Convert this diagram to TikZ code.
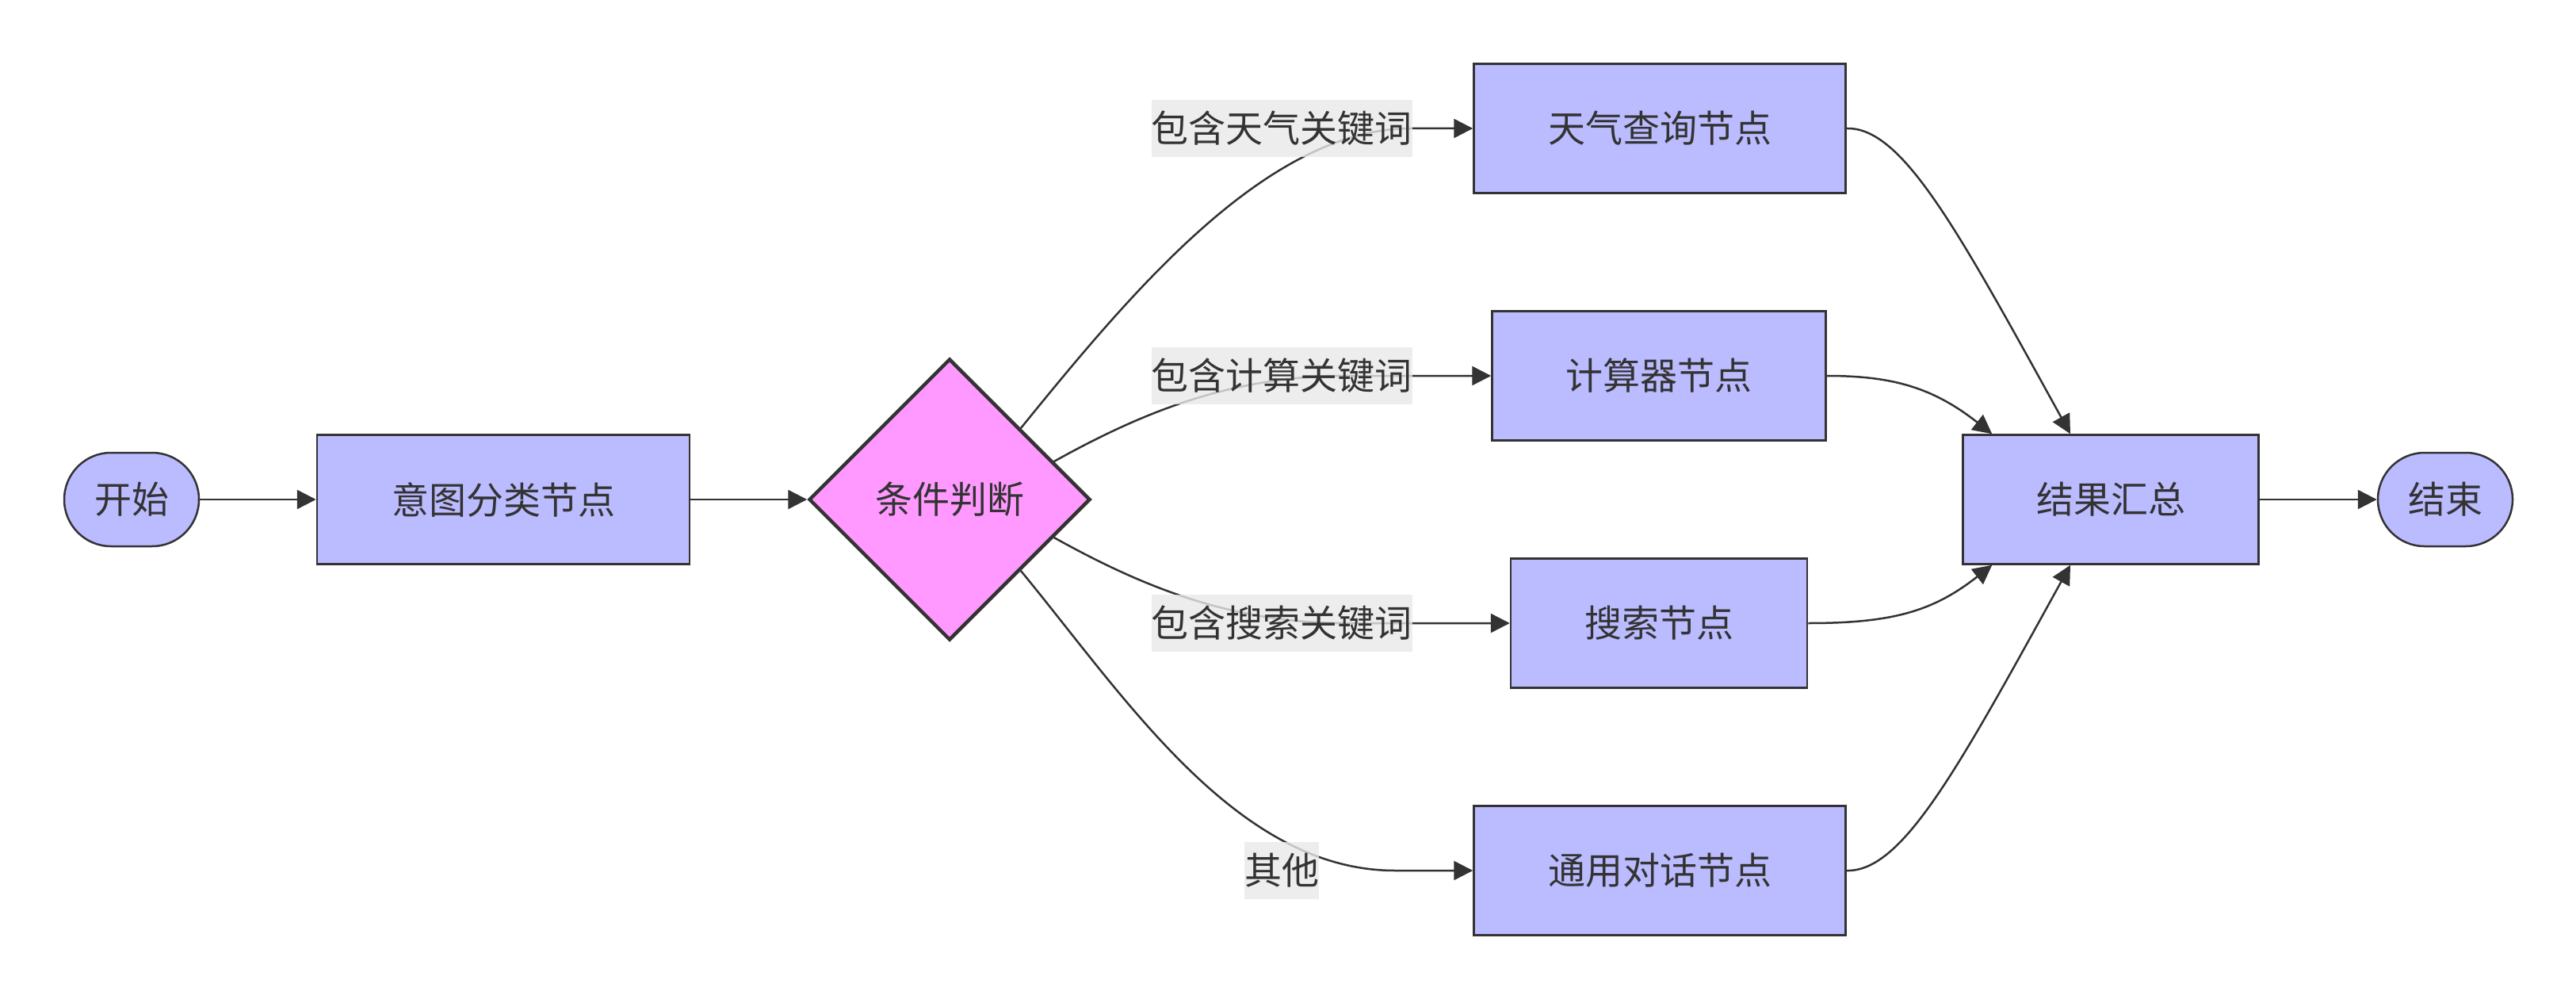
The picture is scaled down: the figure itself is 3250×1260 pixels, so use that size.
\documentclass[tikz,border=0pt]{standalone}
\usepackage{fontspec}
\setmainfont{Noto Sans CJK SC}
\usetikzlibrary{shapes.geometric,arrows.meta}
\definecolor{boxfill}{RGB}{187,187,255}
\definecolor{condfill}{RGB}{255,153,255}
\definecolor{inkgray}{RGB}{51,51,51}
\definecolor{labelbg}{RGB}{232,232,232}
\tikzset{every picture/.style={line width=2.5pt}}
\tikzset{
  procbox/.style={draw=inkgray, fill=boxfill, line width=2.5pt, minimum height=163pt, inner sep=0pt, text=inkgray, font=\fontsize{47}{56}\selectfont},
  termbox/.style={procbox, rounded corners=59pt, minimum width=170pt, minimum height=118pt},
  condbox/.style={diamond, aspect=1, draw=inkgray, fill=condfill, line width=4.5pt, minimum width=355pt, minimum height=355pt, inner sep=0pt, text=inkgray, font=\fontsize{47}{56}\selectfont},
  edgelabel/.style={fill=labelbg, fill opacity=0.8, text opacity=1, text=inkgray, inner xsep=0pt, inner ysep=0pt, minimum height=72pt, font=\fontsize{47}{56}\selectfont},
  flow/.style={draw=inkgray, line width=2.5pt, -{Triangle[length=24pt,width=24pt]}}
}

\begin{document}
\begin{tikzpicture}[x=1pt,y=1pt,yscale=-1,xscale=1]
\useasboundingbox (0,0) rectangle (3250,1260);

%Shape: Terminal [id:start]
\node (start) at (166,630) [termbox] {开始};
%Shape: Rectangle [id:intent]
\node (intent) at (635,630) [procbox, minimum width=470pt] {意图分类节点};
%Shape: Diamond [id:cond]
\node (cond) at (1198,630) [condbox] {条件判断};
%Shape: Rectangle [id:weather]
\node (weather) at (2094,162) [procbox, minimum width=469pt] {天气查询节点};
%Shape: Rectangle [id:calc]
\node (calc) at (2093,474) [procbox, minimum width=421pt] {计算器节点};
%Shape: Rectangle [id:search]
\node (search) at (2093,786) [procbox, minimum width=374pt] {搜索节点};
%Shape: Rectangle [id:chat]
\node (chat) at (2094,1098) [procbox, minimum width=469pt] {通用对话节点};
%Shape: Rectangle [id:summary]
\node (summary) at (2663,630) [procbox, minimum width=373pt] {结果汇总};
%Shape: Terminal [id:finish]
\node (finish) at (3085,630) [termbox] {结束};

%Straight Lines
\draw [flow] (start.east) -- (intent.west);
\draw [flow] (intent.east) -- (cond.west);
%Curve Lines
\draw [flow] (cond.45) .. controls (1430,365) and (1600,162) .. (1780,162) -- (weather.west);
\draw [flow] (cond.20) .. controls (1450,515) and (1560,474) .. (1700,474) -- (calc.west);
\draw [flow] (cond.-20) .. controls (1450,745) and (1560,786) .. (1700,786) -- (search.west);
\draw [flow] (cond.-45) .. controls (1420,880) and (1560,1098) .. (1760,1098) -- (chat.west);
\draw [flow] (weather.east) .. controls (2400,160) and (2470,290) .. ([xshift=-51pt]summary.north);
\draw [flow] (calc.east) .. controls (2390,474) and (2440,490) .. ([xshift=38pt]summary.north west);
\draw [flow] (search.east) .. controls (2390,786) and (2440,770) .. ([xshift=38pt]summary.south west);
\draw [flow] (chat.east) .. controls (2400,1100) and (2470,970) .. ([xshift=-51pt]summary.south);
\draw [flow] (summary.east) -- (finish.west);

% Text Node
\node (lweather) at (1617,162) [edgelabel] {包含天气关键词};
% Text Node
\node (lcalc) at (1617,474) [edgelabel] {包含计算关键词};
% Text Node
\node (lsearch) at (1617,786) [edgelabel] {包含搜索关键词};
% Text Node
\node (lother) at (1617,1098) [edgelabel] {其他};

\end{tikzpicture}
\end{document}
